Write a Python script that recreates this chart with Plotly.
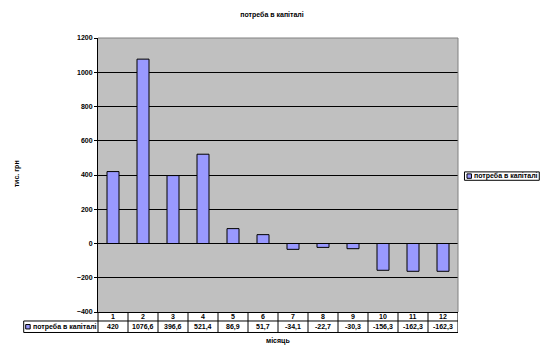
import plotly.graph_objects as go

# ---- data ----
title_text = "потреба в капіталі"
series_name = "потреба в капіталі"
y_title = "тис. грн"
x_title = "місяць"
months = [1, 2, 3, 4, 5, 6, 7, 8, 9, 10, 11, 12]
month_labels = ["1", "2", "3", "4", "5", "6", "7", "8", "9", "10", "11", "12"]
values = [420, 1076.6, 396.6, 521.4, 86.9, 51.7, -34.1, -22.7, -30.3, -156.3, -162.3, -162.3]
value_labels = ["420", "1076,6", "396,6", "521,4", "86,9", "51,7", "-34,1", "-22,7", "-30,3", "-156,3", "-162,3", "-162,3"]

# ---- geometry (pixels) ----
FW, FH = 544, 356
L, R, T, B = 97.5, 458.5, 38.3, 312.5
W, H = R - L, B - T

def px(x):
    return (x - L) / W

def py(y):
    return (B - y) / H

FONT = "Liberation Sans, Arial, sans-serif"
BAR_COLOR = "#9999FF"
TF = dict(family=FONT, size=7, color="black", weight="bold")

fig = go.Figure()
fig.add_trace(go.Bar(
    x=months, y=values, width=0.4, name=series_name,
    marker=dict(color=BAR_COLOR, line=dict(color="black", width=1)),
    showlegend=False,
))

shapes = []
ann = []

# plot border top/right (gray)
shapes.append(dict(type="line", xref="paper", yref="paper", x0=0, x1=1, y0=1, y1=1,
                   line=dict(color="#808080", width=1), layer="above"))
shapes.append(dict(type="line", xref="paper", yref="paper", x0=1, x1=1, y0=0, y1=1,
                   line=dict(color="#808080", width=1), layer="above"))

# data table
row1_top, row_sep, row2_bot = B, 321.5, 333.0
cell_left = 23.0
tl = dict(color="black", width=1)
shapes.append(dict(type="line", xref="paper", yref="paper", x0=px(cell_left), x1=1,
                   y0=py(row_sep), y1=py(row_sep), line=tl))
shapes.append(dict(type="line", xref="paper", yref="paper", x0=px(cell_left), x1=1,
                   y0=py(row2_bot), y1=py(row2_bot), line=tl))
shapes.append(dict(type="line", xref="paper", yref="paper", x0=px(cell_left), x1=px(cell_left),
                   y0=py(row_sep), y1=py(row2_bot), line=tl))
shapes.append(dict(type="line", xref="paper", yref="paper", x0=0, x1=0,
                   y0=py(row1_top), y1=py(row2_bot), line=tl))
for m in months:
    shapes.append(dict(type="line", xref="x", yref="paper", x0=m + 0.5, x1=m + 0.5,
                       y0=py(row1_top), y1=py(row2_bot), line=tl))
for m, lab, vl in zip(months, month_labels, value_labels):
    ann.append(dict(x=m, y=py((row1_top + row_sep) / 2), xref="x", yref="paper", text=lab,
                    showarrow=False, font=TF, xanchor="center", yanchor="middle"))
    ann.append(dict(x=m, y=py((row_sep + row2_bot) / 2), xref="x", yref="paper", text=vl,
                    showarrow=False, font=TF, xanchor="center", yanchor="middle"))

# legend key inside table
ymid = (row_sep + row2_bot) / 2
shapes.append(dict(type="rect", xref="paper", yref="paper", x0=px(25), x1=px(29.5),
                   y0=py(ymid - 2.2), y1=py(ymid + 2.2), fillcolor=BAR_COLOR,
                   line=dict(color="black", width=1)))
ann.append(dict(x=px(30.5), y=py(ymid), xref="paper", yref="paper", text=series_name,
                showarrow=False, font=TF, xanchor="left", yanchor="middle"))

# legend box on right
shapes.append(dict(type="rect", xref="paper", yref="paper", x0=px(465), x1=px(540),
                   y0=py(172.3), y1=py(180.7), fillcolor="white",
                   line=dict(color="black", width=1)))
shapes.append(dict(type="rect", xref="paper", yref="paper", x0=px(467.5), x1=px(472),
                   y0=py(174.3), y1=py(178.7), fillcolor=BAR_COLOR,
                   line=dict(color="black", width=1)))
ann.append(dict(x=px(472.8), y=py(176.5), xref="paper", yref="paper", text=series_name,
                showarrow=False, font=TF, xanchor="left", yanchor="middle"))

# axis titles
ann.append(dict(x=px(16), y=py(174), xref="paper", yref="paper", text=y_title, textangle=-90,
                showarrow=False, font=TF, xanchor="center", yanchor="middle"))
ann.append(dict(x=px(278), y=py(342), xref="paper", yref="paper", text=x_title,
                showarrow=False, font=TF, xanchor="center", yanchor="middle"))

fig.update_layout(
    width=FW, height=FH,
    margin=dict(l=L, r=FW - R, t=T, b=FH - B, pad=0),
    paper_bgcolor="white", plot_bgcolor="#C0C0C0",
    title=dict(text=title_text, x=272 / FW, xref="container", xanchor="center",
               y=1 - 15 / FH, yref="container", yanchor="middle", font=TF),
    font=TF,
    xaxis=dict(range=[0.5, 12.5], showticklabels=False, showgrid=False, zeroline=False,
               showline=True, linecolor="black", linewidth=1, ticks="", fixedrange=True),
    yaxis=dict(range=[-400, 1200], dtick=200, tick0=0, showgrid=True, gridcolor="black",
               gridwidth=1, zeroline=True, zerolinecolor="black", zerolinewidth=1,
               showline=True, linecolor="black", linewidth=1, ticks="outside", ticklen=3,
               tickcolor="black", tickfont=TF),
    shapes=shapes, annotations=ann, showlegend=False, bargap=0.6,
)

fig.write_html("out.html")
